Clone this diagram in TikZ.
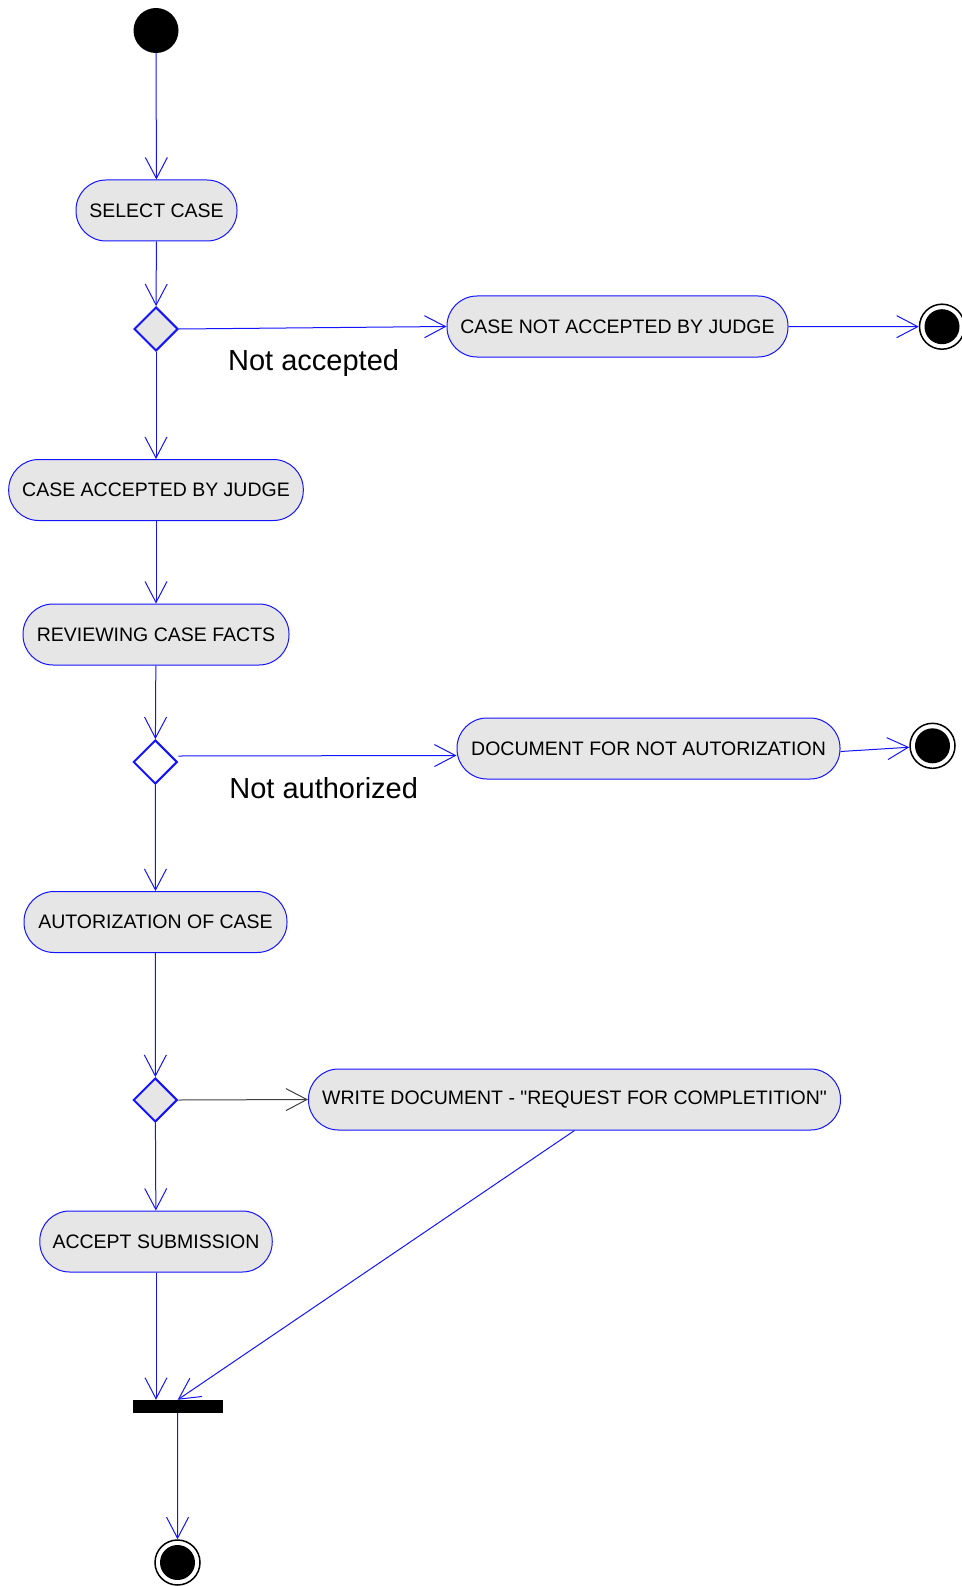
\documentclass[tikz,border=0pt]{standalone}
\usepackage{fontspec}
\setmainfont{Liberation Sans}
\usetikzlibrary{arrows.meta,shapes.geometric}
\definecolor{umlblue}{RGB}{20,20,255}
\definecolor{actfill}{RGB}{230,230,230}
\tikzset{
  activity/.style={draw=umlblue, line width=1pt, fill=actfill, rounded corners=30pt,
    minimum height=61pt, inner sep=0pt, font=\fontsize{19.5}{23}\selectfont},
  decision/.style={diamond, aspect=1, draw=umlblue, line width=2pt,
    minimum width=44pt, minimum height=44pt, inner sep=0pt},
  startnode/.style={circle, fill=black, minimum size=45pt, inner sep=0pt},
  endnode/.style={circle, draw=black, line width=1.5pt, fill=white, minimum size=45pt, inner sep=0pt,
    path picture={\fill[black] (path picture bounding box.center) circle (17.5pt);}},
  forkbar/.style={rectangle, fill=black, minimum width=90pt, minimum height=12.7pt, inner sep=0pt},
  flow/.style={draw=umlblue, line width=1pt, -{Straight Barb[length=21pt,width=22pt]}},
  blackflow/.style={draw=black!75, line width=1pt, -{Straight Barb[length=21pt,width=22pt]}},
  guard/.style={font=\fontsize{29}{34}\selectfont}
}
\begin{document}
\begin{tikzpicture}[x=1pt,y=-1pt]
\useasboundingbox (0,0) rectangle (961,1586);

% start
\node[startnode] (start) at (156,30.5) {};

% activities
\node[activity, minimum width=161pt] (sel) at (156.5,210.5) {SELECT CASE};
\node[activity, minimum width=341pt] (cna) at (617.5,326.5) {CASE NOT ACCEPTED BY JUDGE};
\node[activity, minimum width=294.6pt] (cab) at (156,490) {CASE ACCEPTED BY JUDGE};
\node[activity, minimum width=266pt] (rev) at (156,634.5) {REVIEWING CASE FACTS};
\node[activity, minimum width=383pt] (doc) at (648.5,748.5) {DOCUMENT FOR NOT AUTORIZATION};
\node[activity, minimum width=263pt] (aut) at (155.5,922) {AUTORIZATION OF CASE};
\node[activity, minimum width=532pt] (wri) at (574.5,1099.5) {WRITE DOCUMENT - \textquotedbl REQUEST FOR COMPLETITION\textquotedbl};
\node[activity, minimum width=232.5pt] (acc) at (156,1241.5) {ACCEPT SUBMISSION};

% decisions
\node[decision, fill=actfill] (d1) at (156,329) {};
\node[decision, fill=white] (d2) at (155.3,762) {};
\node[decision, fill=actfill] (d3) at (155.3,1100) {};

% fork bar
\node[forkbar] (bar) at (177.7,1406.3) {};

% final nodes
\node[endnode] (e1) at (942,326.7) {};
\node[endnode] (e2) at (932.5,745.8) {};
\node[endnode] (e3) at (177.5,1562.5) {};

% guards
\node[guard] (g1) at (313.6,363) {Not accepted};
\node[guard] (g2) at (323.7,788) {Not authorized};

% flows
\draw[flow] (start) -- (sel);
\draw[flow] (sel) -- (d1);
\draw[flow] (d1.east) -- (cna.west);
\draw[flow] (cna.east) -- (e1);
\draw[flow] (d1) -- (cab);
\draw[flow] (cab) -- (rev);
\draw[flow] (rev) -- (d2);
\draw[flow] ([yshift=6pt]d2.east) -- ([yshift=-7pt]doc.west);
\draw[flow] ([yshift=-3pt]doc.east) -- (e2);
\draw[flow] (d2) -- (aut);
\draw[flow] (aut) -- (d3);
\draw[blackflow] (d3.east) -- (wri.west);
\draw[flow] (d3) -- (acc);
\draw[flow] (acc.south) -- (acc.south |- bar.north);
\draw[flow] (wri.south) -- (bar.north);
\draw[flow] (bar.south) -- (e3);
\end{tikzpicture}
\end{document}
